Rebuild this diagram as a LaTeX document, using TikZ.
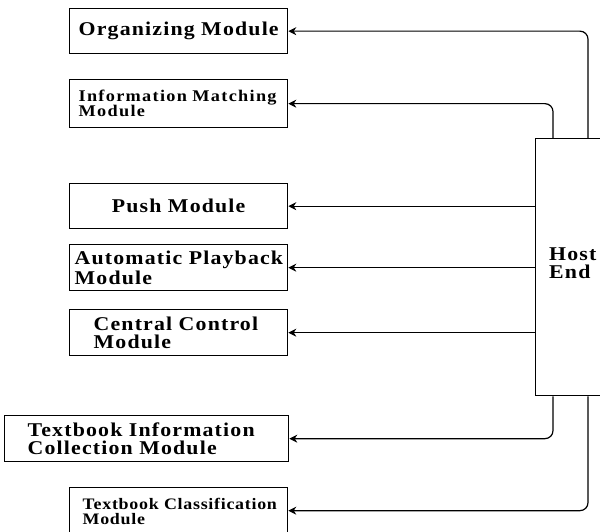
\documentclass[tikz,border=0pt]{standalone}
\usepackage{fontspec}
\setmainfont{Liberation Serif}[FakeStretch=1.12, LetterSpace=6, WordSpace=1.8]
\newfontfamily\smallfam{Liberation Serif}[FakeStretch=1.12, LetterSpace=8, WordSpace=1.8]
\newfontfamily\tinyfam{Liberation Serif}[FakeStretch=1.12, LetterSpace=4.5, WordSpace=1.7]
\usetikzlibrary{arrows.meta}
\newcommand{\bigtxt}{\bfseries\fontsize{19.5}{18}\selectfont}
\newcommand{\smalltxt}{\smallfam\bfseries\fontsize{16.3}{15}\selectfont}
\newcommand{\tinytxt}{\tinyfam\bfseries\fontsize{16}{14.5}\selectfont}
\tikzset{
  mod/.style={draw, line width=1.3pt, anchor=north west, align=left,
    font=\bigtxt, inner ysep=0pt},
  link/.style={line width=1.2pt, -{Stealth[length=8pt,width=8pt]},
    rounded corners=8pt},
}
\begin{document}
\begin{tikzpicture}[x=1pt,y=-1pt]
\useasboundingbox (0,0) rectangle (600,532);

% module boxes
\node[mod, minimum width=218pt, minimum height=45pt, inner xsep=9pt, text width=200pt]
  (org) at (69,8) {\mbox{Organizing Module}};
\node[mod, font=\smalltxt, minimum width=218pt, minimum height=48pt, inner xsep=9pt, text width=200pt]
  (match) at (69,79) {\mbox{Information Matching}\\Module};
\node[mod, align=center, minimum width=218pt, minimum height=45pt, inner xsep=0pt, text width=218pt]
  (push) at (69,183) {\mbox{Push Module}};
\node[mod, font=\bfseries\fontsize{19.5}{20.5}\selectfont, minimum width=218pt, minimum height=46pt, inner xsep=5pt, text width=208pt]
  (play) at (69,244) {\mbox{Automatic Playback}\\Module};
\node[mod, minimum width=218pt, minimum height=46pt, inner xsep=24pt, text width=170pt]
  (ctrl) at (69,309) {\mbox{Central Control}\\Module};
\node[mod, minimum width=284pt, minimum height=46pt, inner xsep=23pt, text width=238pt]
  (collect) at (4,415) {\mbox{Textbook Information}\\\mbox{Collection Module}};
% this box runs on past the bottom edge of the page
\node[mod, font=\tinytxt, minimum width=218pt, minimum height=48pt, inner xsep=13pt, text width=192pt]
  (classify) at (69,487) {\mbox{Textbook Classification}\\Module};

% host end: the box runs on past the right edge of the page
\node[mod, minimum width=76pt, minimum height=257pt, inner sep=0pt]
  (host) at (535,138) {};
\node[font=\bigtxt, align=left, anchor=west, inner sep=0pt]
  (hostlabel) at ([xshift=14pt, yshift=4pt]host.west) {Host\\End};

% connectors
\draw[link] ([xshift=53pt]host.north west) |- (org.east);
\draw[link] ([xshift=18pt]host.north west) |- (match.east);
\draw[link] (host.west |- push.east) -- (push.east);
\draw[link] (host.west |- play.east) -- (play.east);
\draw[link] (host.west |- ctrl.east) -- (ctrl.east);
\draw[link] ([xshift=18pt]host.south west) |- (collect.east);
\draw[link] ([xshift=53pt]host.south west) |- ([yshift=1pt]classify.east);
\end{tikzpicture}
\end{document}
